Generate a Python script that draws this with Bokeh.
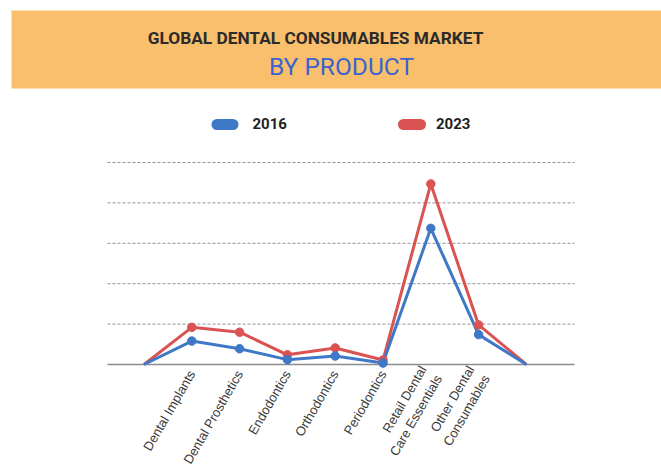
import math
from bokeh.plotting import figure
from bokeh.models import (Range1d, FixedTicker, Legend, LegendItem, Label, ColumnDataSource,
                          BoxAnnotation)
from bokeh.embed import file_html
from bokeh.resources import INLINE

# ---- data (values in gridline units) ----
categories = ["", "Dental Implants", "Dental Prosthetics", "Endodontics", "Orthodontics",
              "Periodontics", "Retail Dental\nCare Essentials", "Other Dental\nConsumables", ""]
values_2016 = [0, 0.58, 0.39, 0.12, 0.21, 0.035, 3.37, 0.74, 0]
values_2023 = [0, 0.92, 0.80, 0.24, 0.41, 0.11, 4.47, 0.98, 0]
series_names = ["2016", "2023"]
title_text = "GLOBAL DENTAL CONSUMABLES MARKET"
subtitle_text = "BY PRODUCT"
grid_ticks = [1, 2, 3, 4, 5]

BLUE = "#3F78C6"
RED = "#DA5252"
ORANGE = "#F9BF6C"

# ---- layout geometry (pixels of the page) ----
W = 661
X0, DX = 143.5, 47.8      # pixel of first category, pixels per category
Y0, DY = 364.0, 40.4      # pixel of value 0, pixels per gridline unit
FRAME_H = 370

def px(xpix):
    return (xpix - X0) / DX

def py(ypix):
    return (Y0 - ypix) / DY

xs = list(range(len(categories)))
src = ColumnDataSource(dict(x=xs, y16=values_2016, y23=values_2023))
inner = ColumnDataSource(dict(x=xs[1:-1], y16=values_2016[1:-1], y23=values_2023[1:-1]))

p = figure(frame_width=W, frame_height=FRAME_H, output_backend="svg", toolbar_location=None,
           x_range=Range1d(px(0), px(W)), y_range=Range1d(py(FRAME_H), py(0)),
           min_border_left=0, min_border_right=0, min_border_top=0, min_border_bottom=0)
p.outline_line_color = None
p.background_fill_color = "white"
p.border_fill_color = "white"
p.xgrid.visible = False
p.ygrid.visible = False
p.yaxis.visible = False

# header band and titles
p.add_layout(BoxAnnotation(left=px(11), right=px(W + 5), bottom=py(88), top=py(10),
                           fill_color=ORANGE, fill_alpha=1, line_alpha=0, level="underlay"))
p.add_layout(Label(x=px(315), y=py(37.6), text=title_text,
                   text_align="center", text_baseline="middle",
                   text_font="Roboto", text_font_style="bold", text_font_size="17.3px",
                   text_color="#2b2b2b"))
p.add_layout(Label(x=px(341), y=py(65.5), text=subtitle_text,
                   text_align="center", text_baseline="middle",
                   text_font="Roboto", text_font_size="24.5px", text_color="#3B62CF"))

# gridlines and baseline
gx0, gx1 = px(107), px(574)
p.segment(x0=[gx0] * len(grid_ticks), x1=[gx1] * len(grid_ticks), y0=grid_ticks, y1=grid_ticks,
          line_color="#939393", line_width=1, line_dash="3 2")
p.segment(x0=[gx0], x1=[gx1], y0=[0], y1=[0], line_color="#8c8c8c", line_width=1.3)

# data
p.line("x", "y23", source=src, line_color=RED, line_width=3)
p.line("x", "y16", source=src, line_color=BLUE, line_width=3)
p.scatter("x", "y23", source=inner, size=8.5, fill_color=RED, line_color=RED)
p.scatter("x", "y16", source=inner, size=8.5, fill_color=BLUE, line_color=BLUE)

# legend: pill-shaped keys (round-capped strokes) + legend labels
p.segment(x0=[px(216.5), px(403)], x1=[px(232.5), px(420)], y0=[py(124)] * 2, y1=[py(124)] * 2,
          line_color=[BLUE, RED], line_width=11, line_cap="round")
l16 = p.line("x", "y16", source=src, line_color=BLUE, line_alpha=0, visible=False)
l23 = p.line("x", "y23", source=src, line_color=RED, line_alpha=0, visible=False)
legend = Legend(items=[LegendItem(label=series_names[0], renderers=[l16]),
                       LegendItem(label=series_names[1], renderers=[l23])],
                orientation="horizontal", location=(216.5, FRAME_H - 124 - 10),
                padding=0, margin=0, spacing=113, glyph_width=16, glyph_height=20,
                label_standoff=20, label_text_font="Roboto", label_text_font_style="bold",
                label_text_font_size="15px", label_text_color="#222222",
                background_fill_alpha=0, border_line_color=None)
p.add_layout(legend, "center")

ax = p.xaxis[0]
ax.ticker = FixedTicker(ticks=xs[1:-1])
ax.major_label_overrides = {i: categories[i] for i in xs[1:-1]}
ax.major_label_orientation = math.pi / 3
ax.major_tick_line_color = None
ax.minor_tick_line_color = None
ax.major_tick_out = 0
ax.major_tick_in = 0
ax.major_label_standoff = 1
ax.axis_line_color = None
ax.major_label_text_font = "Liberation Sans"
ax.major_label_text_font_size = "13px"
ax.major_label_text_color = "#3a3a3a"

open("out.html", "w").write(file_html(p, INLINE))
